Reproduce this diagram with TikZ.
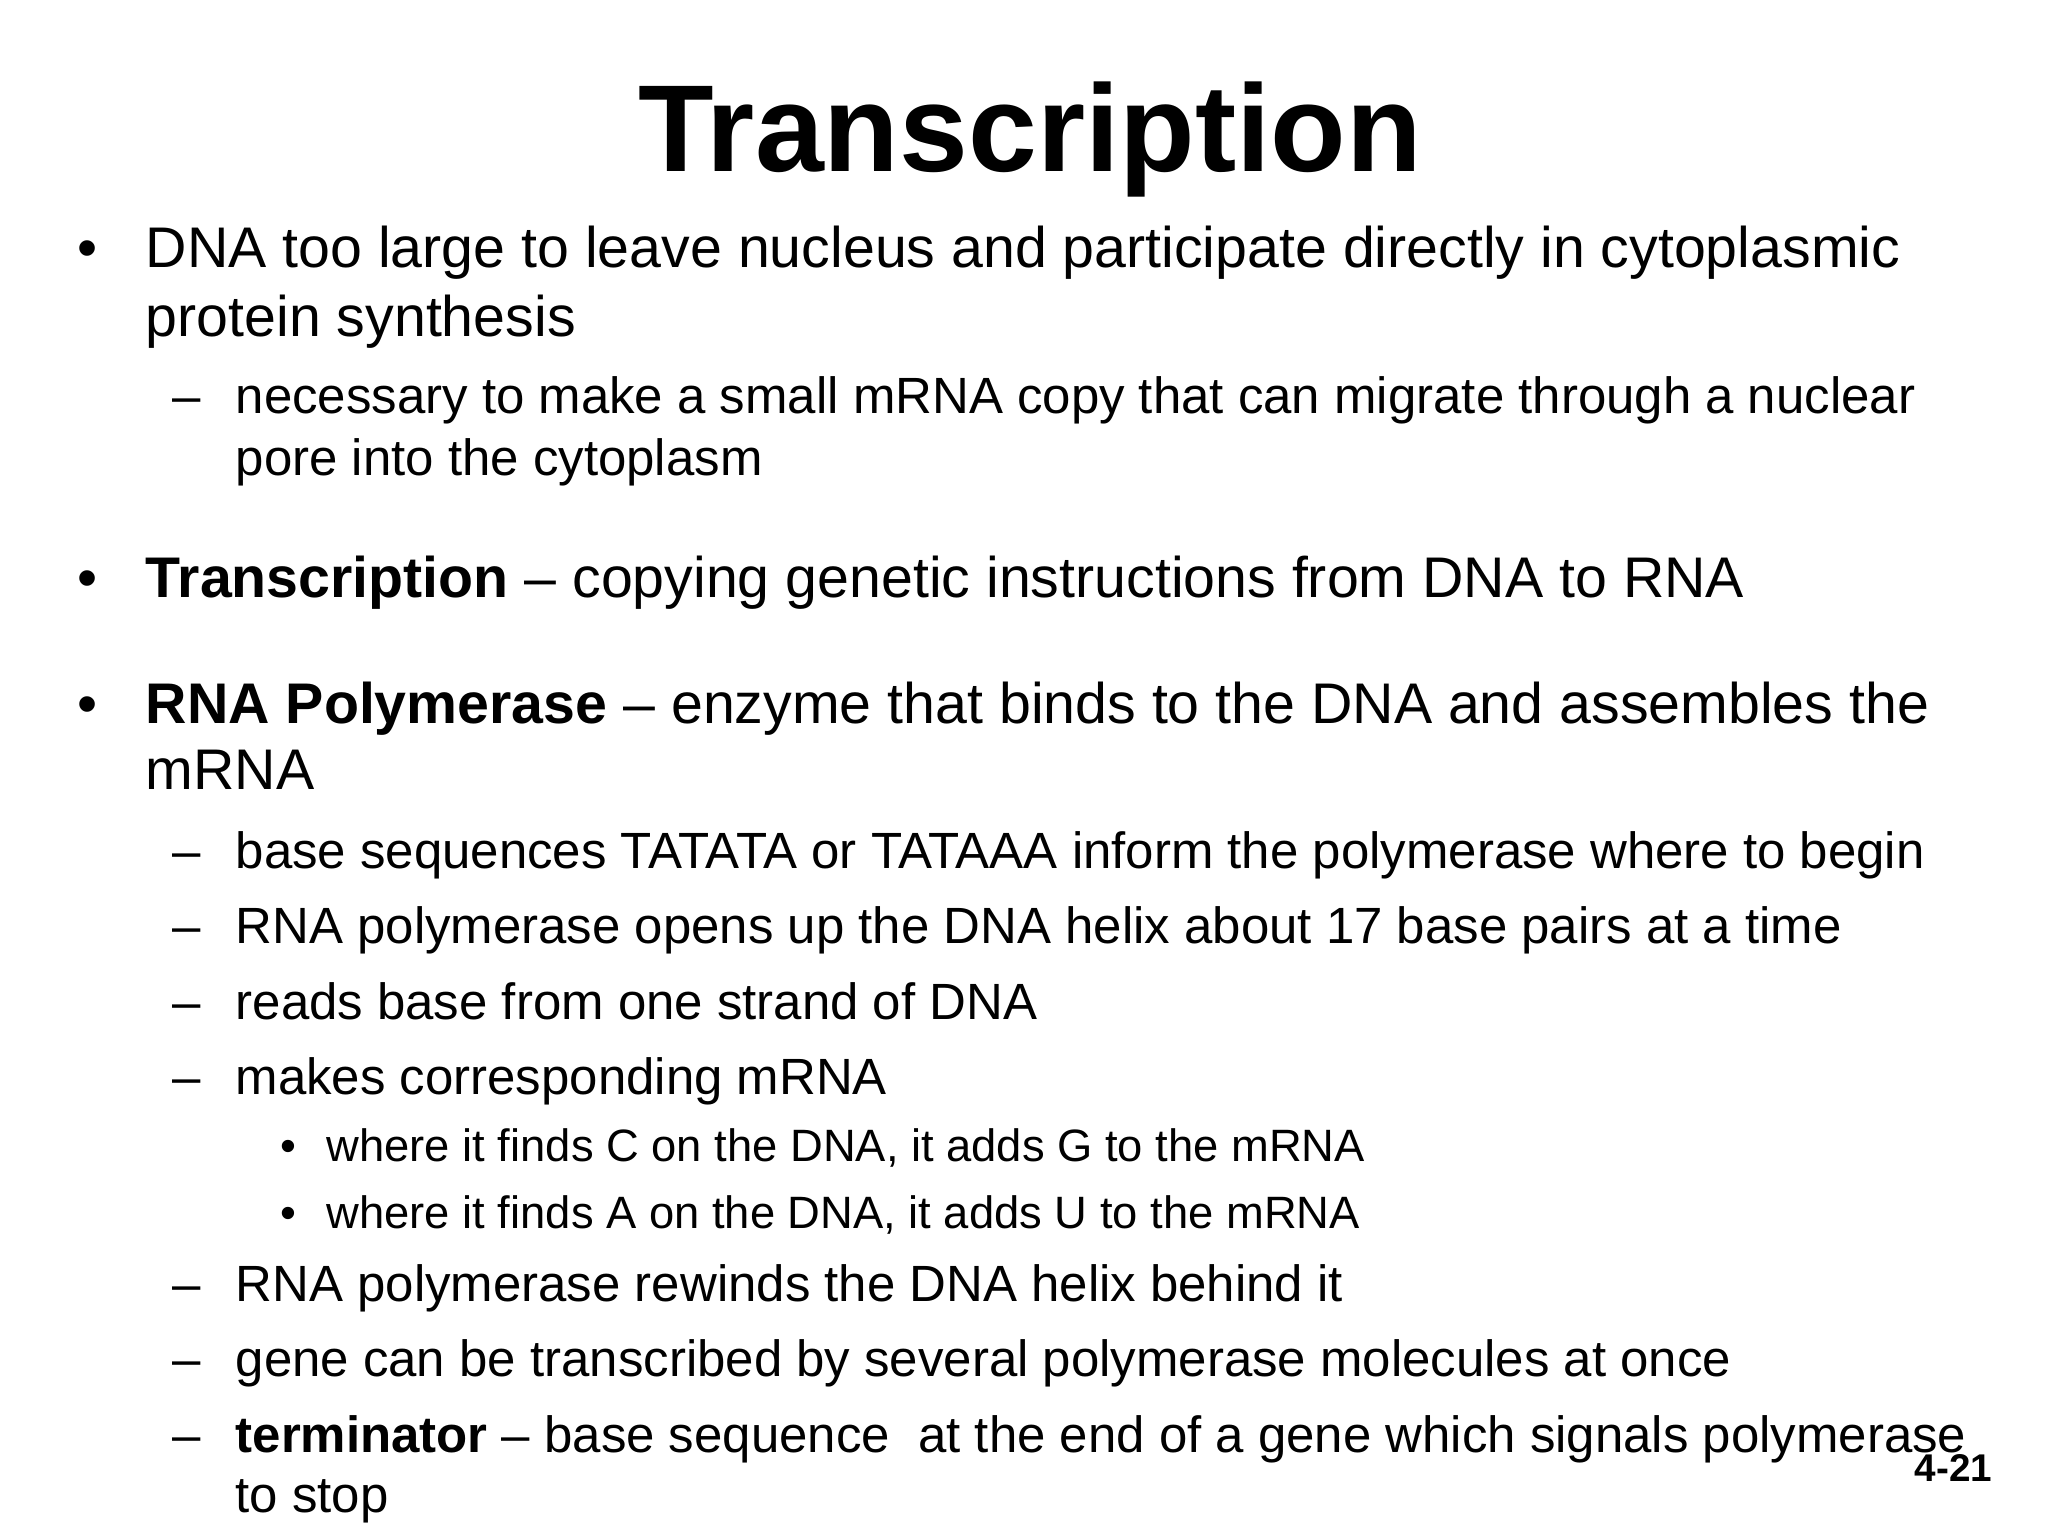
\documentclass[tikz,border=0pt]{standalone}
\usepackage{fontspec}
\setmainfont{Liberation Sans}
\begin{document}
\begin{tikzpicture}[every node/.style={inner sep=0pt,anchor=base west},
  la/.style={font=\fontsize{16.3}{20}\selectfont},
  lb/.style={font=\fontsize{14.5}{18}\selectfont},
  lc/.style={font=\fontsize{12.9}{16}\selectfont}]
\useasboundingbox[fill=white] (0,0) rectangle (20.48,-15.36);
\node[anchor=base,font=\bfseries\fontsize{35.2}{40}\selectfont] (title) at (10.30,-1.716) {Transcription};
% level 1 bullets
\node[la] (b1) at (0.766,-2.680) {•};
\node[la] (t1) at (1.452,-2.680) {DNA too large to leave nucleus and participate directly in cytoplasmic};
\node[la] (t1b) at (1.452,-3.366) {protein synthesis};
\node[lb] (d1) at (1.716,-4.132) {–};
\node[lb] (t2) at (2.350,-4.132) {necessary to make a small mRNA copy that can migrate through a nuclear};
\node[lb] (t2b) at (2.350,-4.752) {pore into the cytoplasm};
\node[la] (b2) at (0.766,-5.980) {•};
\node[la] (t3) at (1.452,-5.980) {\textbf{Transcription} – copying genetic instructions from DNA to RNA};
\node[la] (b3) at (0.766,-7.234) {•};
\node[la] (t4) at (1.452,-7.234) {\textbf{RNA Polymerase} – enzyme that binds to the DNA and assembles the};
\node[la] (t4b) at (1.452,-7.894) {mRNA};
\node[lb] (d2) at (1.716,-8.686) {–};
\node[lb] (t5) at (2.350,-8.686) {base sequences TATATA or TATAAA inform the polymerase where to begin};
\node[lb] (d3) at (1.716,-9.438) {–};
\node[lb] (t6) at (2.350,-9.438) {RNA polymerase opens up the DNA helix about 17 base pairs at a time};
\node[lb] (d4) at (1.716,-10.190) {–};
\node[lb] (t7) at (2.350,-10.190) {reads base from one strand of DNA};
\node[lb] (d5) at (1.716,-10.943) {–};
\node[lb] (t8) at (2.350,-10.943) {makes corresponding mRNA};
\node[lc] (e1) at (2.798,-11.616) {•};
\node[lc] (t9) at (3.260,-11.616) {where it finds C on the DNA, it adds G to the mRNA};
\node[lc] (e2) at (2.798,-12.289) {•};
\node[lc] (t10) at (3.260,-12.289) {where it finds A on the DNA, it adds U to the mRNA};
\node[lb] (d6) at (1.716,-13.015) {–};
\node[lb] (t11) at (2.350,-13.015) {RNA polymerase rewinds the DNA helix behind it};
\node[lb] (d7) at (1.716,-13.768) {–};
\node[lb] (t12) at (2.350,-13.768) {gene can be transcribed by several polymerase molecules at once};
\node[lb] (d8) at (1.716,-14.520) {–};
\node[lb] (t13) at (2.350,-14.520) {\textbf{terminator} – base sequence\ \ at the end of a gene which signals polymerase};
\node[lb] (t13b) at (2.350,-15.127) {to stop};
\node[anchor=base east,font=\bfseries\fontsize{11}{13}\selectfont] (pg) at (19.93,-14.810) {4-21};
\end{tikzpicture}
\end{document}
